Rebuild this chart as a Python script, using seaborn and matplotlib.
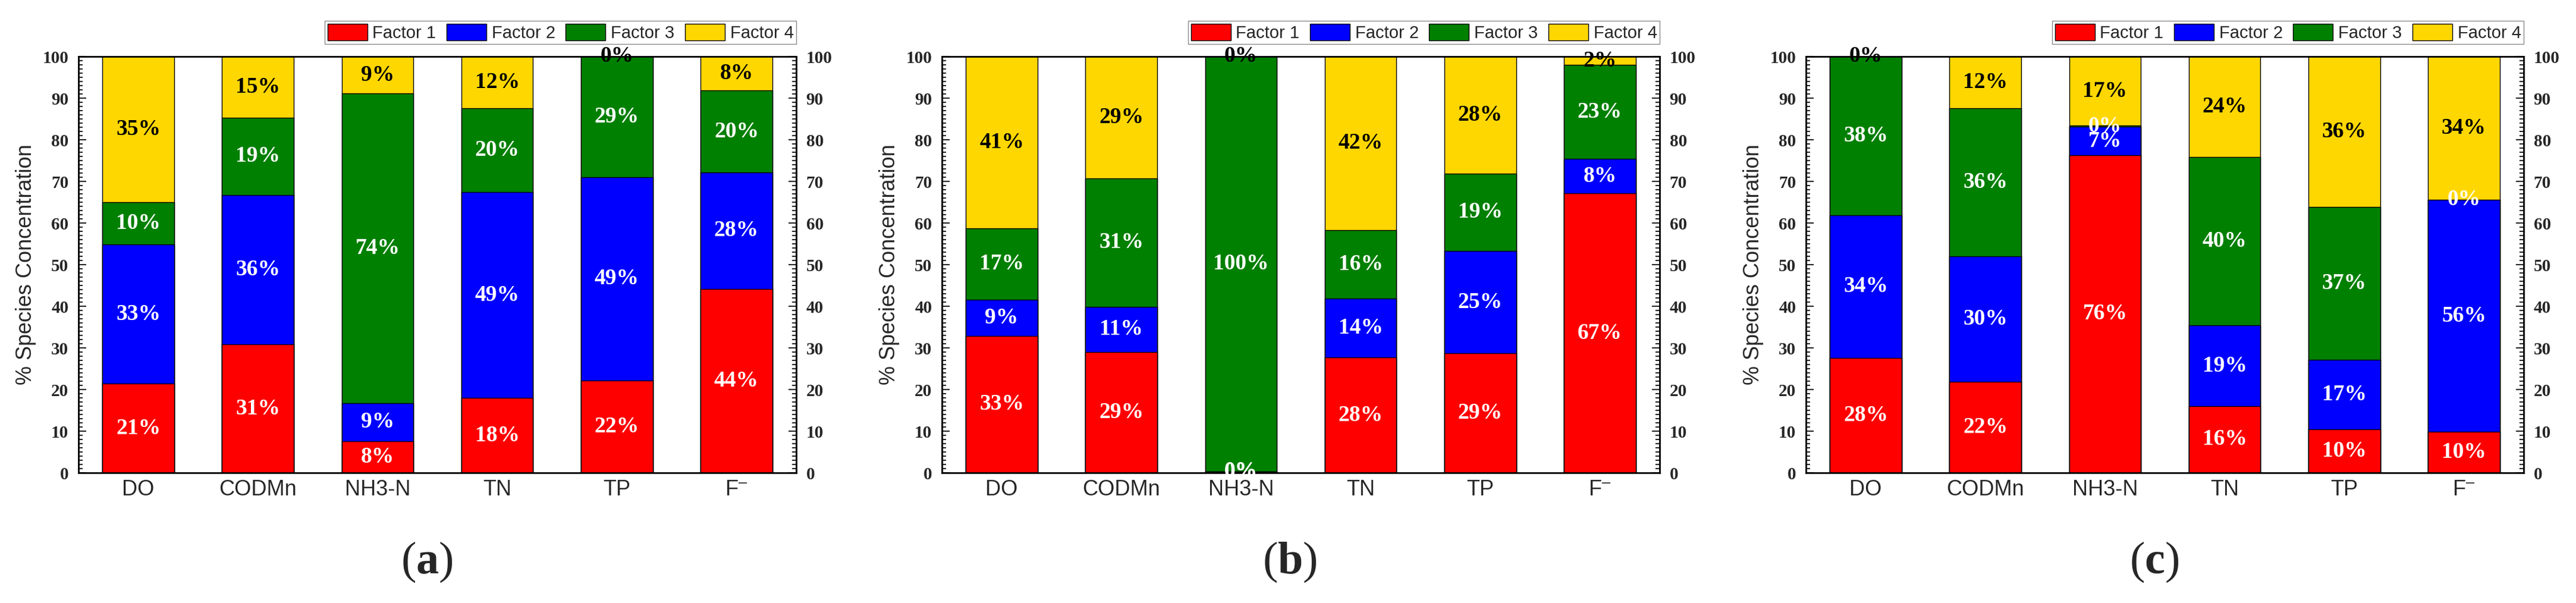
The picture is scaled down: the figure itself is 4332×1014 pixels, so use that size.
import numpy as np
import matplotlib
matplotlib.use('Agg')
import matplotlib.pyplot as plt
from matplotlib.patches import Patch
from matplotlib.ticker import MultipleLocator
import seaborn as sns

categories = ['DO', 'CODMn', 'NH3-N', 'TN', 'TP', 'F$^{\u2013}$']
factors = ['Factor 1', 'Factor 2', 'Factor 3', 'Factor 4']
colors = ['#FF0000', '#0000FF', '#008000', '#FFD700']
text_colors = ['white', 'white', 'white', 'black']

# panel (a)
a_f1 = [21.4, 30.8, 7.6, 18.0, 22.2, 44.2]
a_f2 = [33.4, 35.9, 9.1, 49.4, 48.8, 27.9]
a_f3 = [10.2, 18.6, 74.4, 20.2, 29.0, 19.7]
a_f4 = [35.0, 14.7, 8.9, 12.4, 0.0, 8.2]

# panel (b)
b_f1 = [32.9, 29.0, 0.3, 27.7, 28.7, 67.1]
b_f2 = [8.7, 10.9, 0.0, 14.2, 24.6, 8.3]
b_f3 = [17.1, 30.8, 99.7, 16.4, 18.6, 22.6]
b_f4 = [41.3, 29.3, 0.0, 41.7, 28.1, 2.0]

# panel (c)
c_f1 = [27.6, 21.8, 76.3, 16.0, 10.4, 9.8]
c_f2 = [34.3, 30.2, 6.8, 19.4, 16.8, 55.8]
c_f3 = [38.1, 35.6, 0.3, 40.4, 36.7, 0.0]
c_f4 = [0.0, 12.4, 16.6, 24.2, 36.1, 34.4]

panels = [('a', [a_f1, a_f2, a_f3, a_f4]),
          ('b', [b_f1, b_f2, b_f3, b_f4]),
          ('c', [c_f1, c_f2, c_f3, c_f4])]

sns.set_style('ticks')
plt.rcParams['font.family'] = ['Liberation Serif', 'DejaVu Serif']
plt.rcParams['font.weight'] = 'bold'
plt.rcParams['mathtext.fontset'] = 'custom'
plt.rcParams['mathtext.default'] = 'regular'
plt.rcParams['mathtext.bf'] = 'Liberation Serif:bold'
plt.rcParams['axes.linewidth'] = 2.0
plt.rcParams['axes.edgecolor'] = 'black'

W, H = 4332, 1014
fig = plt.figure(figsize=(W / 100, H / 100), dpi=100)

lefts = [132, 1584, 3037]
ax_w, ax_top, ax_bot = 1207, 95, 795

for (tag, vals), left in zip(panels, lefts):
    ax = fig.add_axes([left / W, 1 - ax_bot / H, ax_w / W, (ax_bot - ax_top) / H])
    data = np.array(vals)
    tops = data.cumsum(axis=0)
    # overlay cumulative bars, tallest first
    for i in range(3, -1, -1):
        sns.barplot(x=categories, y=tops[i], color=colors[i], saturation=1,
                    width=0.6, edgecolor='black', linewidth=1.0,
                    errorbar=None, ax=ax)
    for i in range(4):
        for j in range(len(categories)):
            y = tops[i][j] - data[i][j] / 2
            t = ax.text(j, y, '%.0f%%' % data[i][j], ha='center', va='center',
                        color=text_colors[i], fontsize=27, fontweight='bold',
                        fontfamily='Liberation Serif', zorder=5)
            if y < 2:
                t.set_clip_box(ax.bbox)

    ax.set_xlim(-0.5, 5.5)
    ax.set_ylim(0, 100)
    ax.yaxis.set_major_locator(MultipleLocator(10))
    ax.yaxis.set_minor_locator(MultipleLocator(1))
    ax.tick_params(axis='y', which='both', direction='in', left=True, right=True,
                   labelleft=True, labelright=True, width=1.5, labelsize=21, pad=12)
    ax.tick_params(axis='y', which='major', length=9.5)
    ax.tick_params(axis='y', which='minor', length=5)
    ax.tick_params(axis='x', length=0, pad=8)
    for lbl in ax.get_xticklabels():
        lbl.set_fontfamily('Liberation Sans')
        lbl.set_fontweight('normal')
        lbl.set_fontsize(26)
    for sp in ax.spines.values():
        sp.set_visible(True)
        sp.set_linewidth(2.0)
    ax.set_xlabel('')
    ax.set_ylabel('% Species Concentration', fontfamily='Liberation Sans',
                  fontweight='normal', fontsize=26)
    ax.yaxis.set_label_coords(-0.059, 0.5)

    handles = [Patch(facecolor=c, edgecolor='black', linewidth=1.0) for c in colors]
    leg = ax.legend(handles, factors, loc='lower right', ncol=4,
                    bbox_to_anchor=(1.0, 1.03), borderaxespad=0,
                    prop={'family': 'Liberation Sans', 'weight': 'normal', 'size': 21},
                    handlelength=2.3, handleheight=1.1, handletextpad=0.3,
                    columnspacing=0.6, borderpad=0.15, fancybox=False,
                    framealpha=1, edgecolor='#888888')
    leg.get_frame().set_linewidth(1.0)

    ax.text(0.485, -0.214, r'($\mathbf{%s}$)' % tag, transform=ax.transAxes,
            ha='center', va='center', fontsize=55, fontfamily='Liberation Serif',
            fontweight='normal')

fig.savefig('out.png', dpi=100)
